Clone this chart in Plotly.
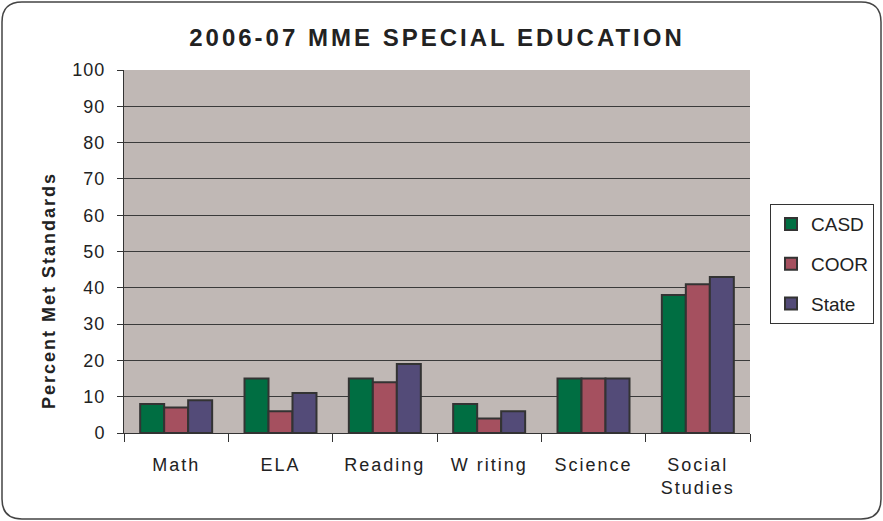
import plotly.graph_objects as go

categories = ["Math", "ELA", "Reading", "W riting", "Science", "Social<br>Studies"]
casd = [8, 15, 15, 8, 15, 38]
coor = [7, 6, 14, 4, 15, 41]
state = [9, 11, 19, 6, 15, 43]
series_names = ["CASD", "COOR", "State"]
colors = ["#006E42", "#A5505F", "#534B78"]

FONT = "Liberation Sans, Arial, sans-serif"

fig = go.Figure()
for name, vals, col in zip(series_names, [casd, coor, state], colors):
    fig.add_trace(go.Bar(
        x=categories, y=vals, name=name, legendgroup=name,
        marker=dict(color=col, line=dict(color="#333333", width=2)),
    ))

L, R, T, B = 124, 133, 70, 88
W, H = 883, 521
PW, PH = W - L - R, H - T - B
fig.update_layout(
    width=W, height=H,
    margin=dict(l=L, r=R, t=T, b=B, autoexpand=False),
    paper_bgcolor="white",
    plot_bgcolor="#C0B8B5",
    barmode="group", bargap=0.31, bargroupgap=0,
    font=dict(family=FONT, size=18, color="#222222"),
    title=dict(text="<b>2006-07 MME SPECIAL EDUCATION</b>", x=0.5, xref="paper",
               y=1 - 38 / H, yanchor="middle",
               font=dict(family=FONT, size=24, color="#222222")),
    legend=dict(x=(770 - L) / PW, xanchor="left", y=0.465, yanchor="middle",
                bordercolor="#333333", borderwidth=1, bgcolor="white",
                font=dict(family=FONT, size=19), tracegroupgap=12),
    showlegend=True,
)
fig.update_yaxes(range=[0, 100], dtick=10, showgrid=True, gridcolor="#3a3a3a", gridwidth=1,
                 showline=True, linecolor="#333333", linewidth=1,
                 ticks="outside", ticklen=6, tickcolor="#333333",
                 tickfont=dict(size=18), ticklabelstandoff=8, zeroline=False)
fig.update_xaxes(showline=True, linecolor="#333333", linewidth=1,
                 ticks="outside", tickson="boundaries", ticklen=8, tickcolor="#333333",
                 tickfont=dict(size=18), ticklabelstandoff=15)

fig.add_annotation(text="<b>Percent Met Standards</b>", textangle=-90,
                   xref="paper", yref="paper", x=(37 - L) / PW, y=(H - B - 291) / PH,
                   showarrow=False, font=dict(family=FONT, size=18, color="#222222"))

# rounded outer border (pixel offsets relative to plot-area bottom-left)
l, r, t, b, rad = 2 - L, (W - 2) - L, (H - B) - 2, (H - B) - (H - 2), 20
path = (f"M {l+rad},{t} L {r-rad},{t} Q {r},{t} {r},{t-rad} L {r},{b+rad} "
        f"Q {r},{b} {r-rad},{b} L {l+rad},{b} Q {l},{b} {l},{b+rad} L {l},{t-rad} "
        f"Q {l},{t} {l+rad},{t} Z")
fig.add_shape(type="path", path=path, xref="paper", yref="paper",
              xsizemode="pixel", ysizemode="pixel", xanchor=0, yanchor=0,
              line=dict(color="#444444", width=1.5), layer="below")

post = """
document.body.style.margin='0';
document.querySelectorAll('.gtitle').forEach(function(e){e.style.letterSpacing='3px';});
document.querySelectorAll('.xtick text').forEach(function(e){e.style.letterSpacing='2px';});
document.querySelectorAll('.ytick text').forEach(function(e){e.style.letterSpacing='1px';});
document.querySelectorAll('.annotation-text').forEach(function(e){e.style.letterSpacing='2px';});
"""
fig.write_html("out.html", post_script=post, config={"displayModeBar": False})
